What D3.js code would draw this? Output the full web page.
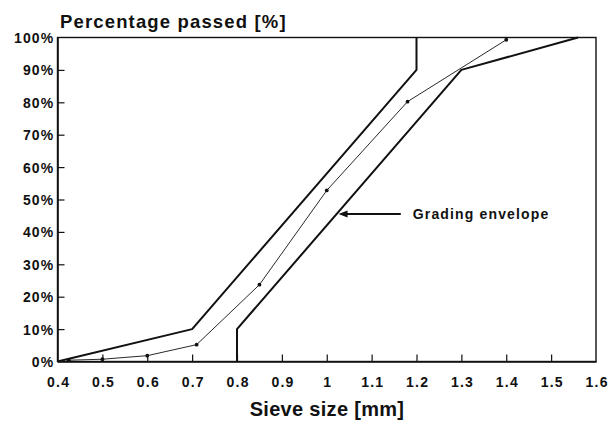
<!DOCTYPE html>
<html>
<head>
<meta charset="utf-8">
<script src="https://cdn.jsdelivr.net/npm/d3@7"></script>
<style>
  html, body { margin: 0; padding: 0; background: #fff; }
  svg { display: block; }
  text { font-family: "Liberation Sans", Arial, Helvetica, sans-serif; fill: #111; }
</style>
</head>
<body>
<svg id="chart" width="616" height="422"></svg>
<script>
// Sieve sizes on the x axis (mm) and percentage ticks on the y axis
const sieveTicks = [0.4, 0.5, 0.6, 0.7, 0.8, 0.9, 1.0, 1.1, 1.2, 1.3, 1.4, 1.5, 1.6];
const percentTicks = [0, 10, 20, 30, 40, 50, 60, 70, 80, 90, 100];

// Measured grading curve: standard sieve openings and cumulative % passed
const sieveSizes = [0.425, 0.5, 0.6, 0.71, 0.85, 1.0, 1.18, 1.4];
const percentPassed = [0.4, 0.7, 1.8, 5.2, 23.7, 52.8, 80.2, 99.3];

// Grading envelope limits
const upperSize = [0.4, 0.7, 1.2, 1.2];
const upperPct = [0, 10, 90, 100];
const lowerSize = [0.8, 0.8, 1.3, 1.56];
const lowerPct = [0, 10, 90, 100];

// Annotation pointing at the lower envelope
const noteLabel = "Grading envelope";
const notePct = 45.5;
const noteTailSize = 1.165;

const svg = d3.select("#chart");
const x = d3.scaleLinear().domain([0.4, 1.6]).range([57.5, 596]);
const y = d3.scaleLinear().domain([0, 100]).range([361.5, 37.5]);

const ink = "#111";

// Frame (top and right edges)
svg.append("rect")
  .attr("x", x(0.4)).attr("y", y(100))
  .attr("width", x(1.6) - x(0.4)).attr("height", y(0) - y(100))
  .attr("fill", "none").attr("stroke", ink).attr("stroke-width", 1.4);

// Axes with inward ticks
const xAxis = d3.axisBottom(x).tickValues(sieveTicks)
  .tickFormat(d => d3.format("~g")(d)).tickSize(-7).tickSizeOuter(0).tickPadding(16);
const yAxis = d3.axisLeft(y).tickValues(percentTicks)
  .tickFormat(d => d + "%").tickSize(-7).tickSizeOuter(0).tickPadding(5);

const gx = svg.append("g").attr("transform", `translate(0,${y(0)})`).call(xAxis);
const gy = svg.append("g").attr("transform", `translate(${x(0.4)},0)`).call(yAxis);

[gx, gy].forEach(g => {
  g.select(".domain").attr("stroke", ink).attr("stroke-width", 1.6);
  g.selectAll(".tick line").attr("stroke", ink).attr("stroke-width", 1.2);
  g.selectAll(".tick text")
    .attr("fill", ink)
    .style("font-family", '"Liberation Sans", Arial, sans-serif')
    .style("font-size", "14px").style("font-weight", "bold")
    .style("letter-spacing", "1.2px");
});
gx.selectAll(".tick line").filter(d => d === 0.4 || d === 1.6).remove();
gy.selectAll(".tick line").filter(d => d === 0 || d === 100).remove();
gx.selectAll(".tick text").attr("dy", "0").attr("y", 25).attr("dx", "0.6px");
gy.selectAll(".tick text").attr("dy", "0.36em").attr("x", -3);

// Lines
const line = d3.line().x(d => x(d[0])).y(d => y(d[1]));
const zip = (a, b) => a.map((v, i) => [v, b[i]]);

svg.append("path").datum(zip(upperSize, upperPct))
  .attr("d", line).attr("fill", "none").attr("stroke", ink)
  .attr("stroke-width", 2).attr("stroke-linejoin", "round");
svg.append("path").datum(zip(lowerSize, lowerPct))
  .attr("d", line).attr("fill", "none").attr("stroke", ink)
  .attr("stroke-width", 2).attr("stroke-linejoin", "round");

const measured = zip(sieveSizes, percentPassed);
svg.append("path").datum(measured)
  .attr("d", line).attr("fill", "none").attr("stroke", ink).attr("stroke-width", 0.9);
svg.selectAll("circle.pt").data(measured).join("circle")
  .attr("class", "pt")
  .attr("cx", d => x(d[0])).attr("cy", d => y(d[1])).attr("r", 1.9).attr("fill", ink);

// Arrow annotation: tip lies on the lower envelope at the given percentage
function sizeAt(sizes, pcts, p) {
  for (let i = 1; i < pcts.length; i++) {
    if (p <= pcts[i] && pcts[i] > pcts[i - 1]) {
      const t = (p - pcts[i - 1]) / (pcts[i] - pcts[i - 1]);
      return sizes[i - 1] + t * (sizes[i] - sizes[i - 1]);
    }
  }
  return sizes[sizes.length - 1];
}
const tipX = x(sizeAt(lowerSize, lowerPct, notePct)) + 2;
const tipY = y(notePct);
const tailX = x(noteTailSize);

svg.append("line")
  .attr("x1", tailX).attr("y1", tipY).attr("x2", tipX + 7).attr("y2", tipY)
  .attr("stroke", ink).attr("stroke-width", 2);
svg.append("path")
  .attr("d", `M${tipX},${tipY} L${tipX + 9},${tipY - 3.5} L${tipX + 9},${tipY + 3.5} Z`)
  .attr("fill", ink);
svg.append("text")
  .attr("x", tailX + 12).attr("y", tipY + 5)
  .style("font-size", "14px").style("font-weight", "bold").style("letter-spacing", "1.15px")
  .text(noteLabel);

// Axis titles
svg.append("text")
  .attr("x", 60).attr("y", 28)
  .style("font-size", "18.5px").style("font-weight", "bold").style("letter-spacing", "1.15px")
  .text("Percentage passed [%]");
svg.append("text")
  .attr("x", 327).attr("y", 416).attr("text-anchor", "middle")
  .style("font-size", "20px").style("font-weight", "bold").style("letter-spacing", "0.3px")
  .text("Sieve size [mm]");
</script>
</body>
</html>
